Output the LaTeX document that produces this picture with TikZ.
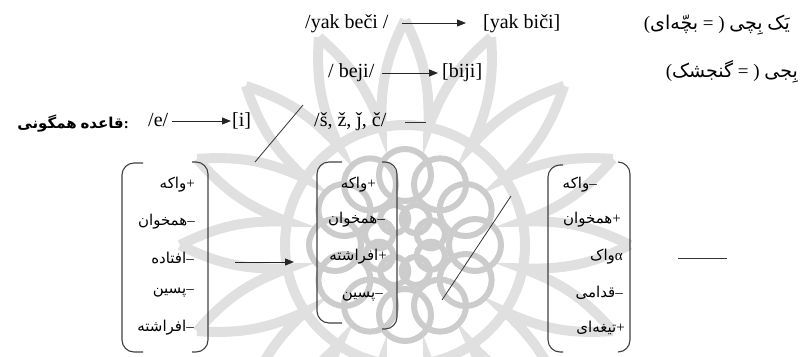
\documentclass[tikz,border=0pt]{standalone}
\usepackage{fontspec}
\setmainfont{Liberation Serif}
\newfontfamily\fa[Script=Arabic]{DejaVu Sans}
\usetikzlibrary{arrows.meta,calc}
\begin{document}
\begin{tikzpicture}[x=1pt,y=-1pt,
  lat/.style={inner sep=0pt, font=\fontsize{20}{24}\selectfont},
  fap/.style={inner sep=0pt, font=\fontsize{19}{22}\selectfont},
  feat/.style={inner sep=0pt, anchor=east, font=\fontsize{15}{18}\selectfont},
  arr/.style={-{Triangle[length=9pt,width=7pt]}, line width=0.9pt, draw=black!85},
  thinline/.style={line width=0.8pt, draw=black!80},
  brk/.style={line width=1.1pt, draw=black!75, rounded corners=12pt},
  wmout/.style={draw=black!12, line width=10pt},
  wmin/.style={draw=black!20, line width=6pt}]
\useasboundingbox (0,0) rectangle (802,356);

% faint watermark (background emblem)
\begin{scope}
\clip (0,0) rectangle (802,356);
\coordinate (C) at (405,245);
\foreach \k in {0,...,15}{
  \draw[wmout] ($(C)+(\k*22.5:225)$) to[bend left=14] ($(C)+(\k*22.5+11.25:120)$)
               to[bend left=14] ($(C)+(\k*22.5+22.5:225)$);
}
\draw[wmout] (C) circle (120);
\foreach \k in {0,...,11}{
  \draw[wmin] ($(C)+(\k*30:70)$) circle (26);
}
\foreach \k in {0,...,7}{
  \draw[wmin] ($(C)+(\k*45+22.5:28)$) circle (14);
}
\end{scope}

% line 1
\node[lat,anchor=base west] (u1) at (305,28) {/yak beči /};
\node[lat,anchor=base west] (s1) at (483,28) {[yak biči]};
\coordinate (a1s) at (402,23); \coordinate (a1e) at (466,23);
\draw[arr] (a1s) -- (a1e);
\node[fap,anchor=east] (p1) at (790,25) {({\fa بچّه‌ای} = ) {\fa بِچی} {\fa یَک}};

% line 2
\node[lat,anchor=base west] (u2) at (328,77) {/ beji/};
\node[lat,anchor=base west] (s2) at (442,77) {[biji]};
\coordinate (a2s) at (382,73); \coordinate (a2e) at (438,73);
\draw[arr] (a2s) -- (a2e);
\node[fap,anchor=east] (p2) at (798,72) {({\fa گنجشک} = ) {\fa بِجی}};

% line 3
\node[inner sep=0pt,anchor=east,font=\fontsize{15}{18}\selectfont\bfseries] (rule) at (129,124) {{\fa\bfseries همگونی} {\fa\bfseries قاعده}:};
\node[lat,anchor=base west] (e) at (148,126) {/e/};
\node[lat,anchor=base west] (i) at (232,126) {[i]};
\coordinate (a3s) at (172,121); \coordinate (a3e) at (231,121);
\draw[arr] (a3s) -- (a3e);
\coordinate (sl1a) at (255,162); \coordinate (sl1b) at (303,105);
\draw[thinline] (sl1a) -- (sl1b);
\node[lat,anchor=base west] (cons) at (314,126) {/š, ž, ǰ, č/};
\coordinate (d1a) at (405,122); \coordinate (d1b) at (426,122);
\draw[thinline] (d1a) -- (d1b);

% left matrix
\draw[brk] (143,163) -- (122,163) -- (122,352) -- (143,352);
\draw[brk] (192,162) -- (208,162) -- (208,352) -- (192,352);
\node[feat] (l1) at (195,185) {{\fa واکه}+};
\node[feat] (l2) at (195,222) {{\fa همخوان}–};
\node[feat] (l3) at (194,258) {{\fa افتاده}–};
\node[feat] (l4) at (194,293) {{\fa پسین}–};
\node[feat] (l5) at (194,328) {{\fa افراشته}–};

% arrow between matrices
\coordinate (a4s) at (235,262); \coordinate (a4e) at (294,262);
\draw[arr] (a4s) -- (a4e);

% middle matrix
\draw[brk] (342,162) -- (317,162) -- (317,323) -- (342,323);
\draw[brk] (382,162) -- (397,162) -- (397,329) -- (382,329);
\node[feat] (m1) at (376,185) {{\fa واکه}+};
\node[feat] (m2) at (385,220) {{\fa همخوان}–};
\node[feat] (m3) at (387,257) {{\fa افراشته}+};
\node[feat] (m4) at (383,297) {{\fa پسین}–};

% slash
\coordinate (sl2a) at (442,300); \coordinate (sl2b) at (511,196);
\draw[thinline] (sl2a) -- (sl2b);

% right matrix
\draw[brk] (563,165) -- (548,165) -- (548,352) -- (563,352);
\draw[brk] (618,162) -- (630,162) -- (630,352) -- (618,352);
\node[feat] (r1) at (597,185) {{\fa واکه}–};
\node[feat] (r2) at (621,220) {{\fa همخوان}+};
\node[feat] (r3) at (623,257) {{\fa واک}α};
\node[feat] (r4) at (623,293) {{\fa قدامی}–};
\node[feat] (r5) at (625,328) {{\fa تیغه‌ای}+};

\coordinate (d2a) at (678,258); \coordinate (d2b) at (727,258);
\draw[thinline] (d2a) -- (d2b);
\end{tikzpicture}
\end{document}
